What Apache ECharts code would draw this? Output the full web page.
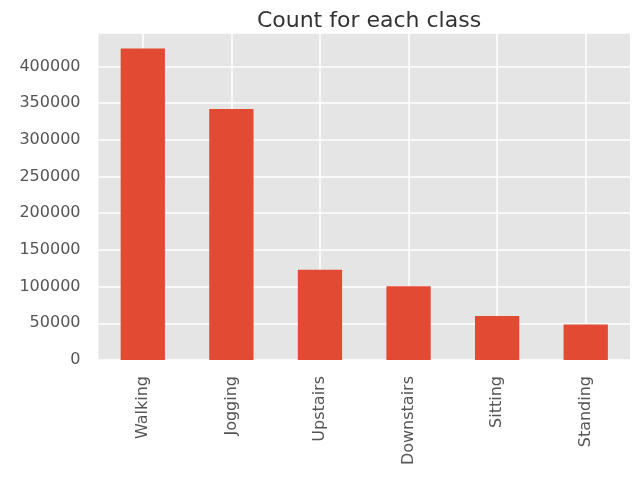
<!DOCTYPE html>
<html>
<head>
<meta charset="utf-8">
<script src="https://cdn.jsdelivr.net/npm/echarts@6/dist/echarts.min.js"></script>
<style>html,body{margin:0;padding:0;background:#fff}#c{width:633px;height:477px}</style>
</head>
<body>
<div id="c"></div>
<script>
const categories = ['Walking', 'Jogging', 'Upstairs', 'Downstairs', 'Sitting', 'Standing'];
const counts = [424400, 342200, 122900, 100400, 59900, 48400];
const titleText = 'Count for each class';

const FONT = 'DejaVu Sans';
const yMax = Math.max(...counts) * 1.05;

const chart = echarts.init(document.getElementById('c'), null, {renderer: 'canvas'});
chart.setOption({
  animation: false,
  backgroundColor: '#ffffff',
  title: {
    text: titleText,
    left: 364, top: 5, textAlign: 'center',
    textStyle: {fontFamily: FONT, fontSize: 22, fontWeight: 'normal', color: '#333333'}
  },
  grid: {
    left: 98.5, right: 3, top: 33, bottom: 117,
    show: true, backgroundColor: '#E5E5E5', borderWidth: 0
  },
  xAxis: {
    type: 'category',
    data: categories,
    boundaryGap: true,
    axisLine: {show: false},
    axisTick: {show: false},
    splitLine: {show: false},
    axisLabel: {
      rotate: 90, margin: 16, color: '#555555',
      fontFamily: FONT, fontSize: 16, interval: 0
    }
  },
  yAxis: {
    type: 'value',
    min: 0, max: yMax, interval: 50000,
    axisLine: {show: false},
    axisTick: {show: false},
    splitLine: {show: true, lineStyle: {color: '#ffffff', width: 1.5}},
    axisLabel: {
      margin: 18, color: '#555555', fontFamily: FONT, fontSize: 16,
      showMaxLabel: false,
      formatter: v => String(Math.round(v))
    }
  },
  series: [
    {
      type: 'line',
      data: [],
      z: 1,
      silent: true,
      markLine: {
        z: 1,
        silent: true,
        symbol: 'none',
        animation: false,
        label: {show: false},
        lineStyle: {color: '#ffffff', width: 1.5, type: 'solid'},
        data: categories.map(c => ({xAxis: c}))
      }
    },
    {
      type: 'bar',
      data: counts,
      z: 3,
      barWidth: '50%',
      itemStyle: {color: '#E24A33'}
    }
  ]
});
</script>
</body>
</html>
